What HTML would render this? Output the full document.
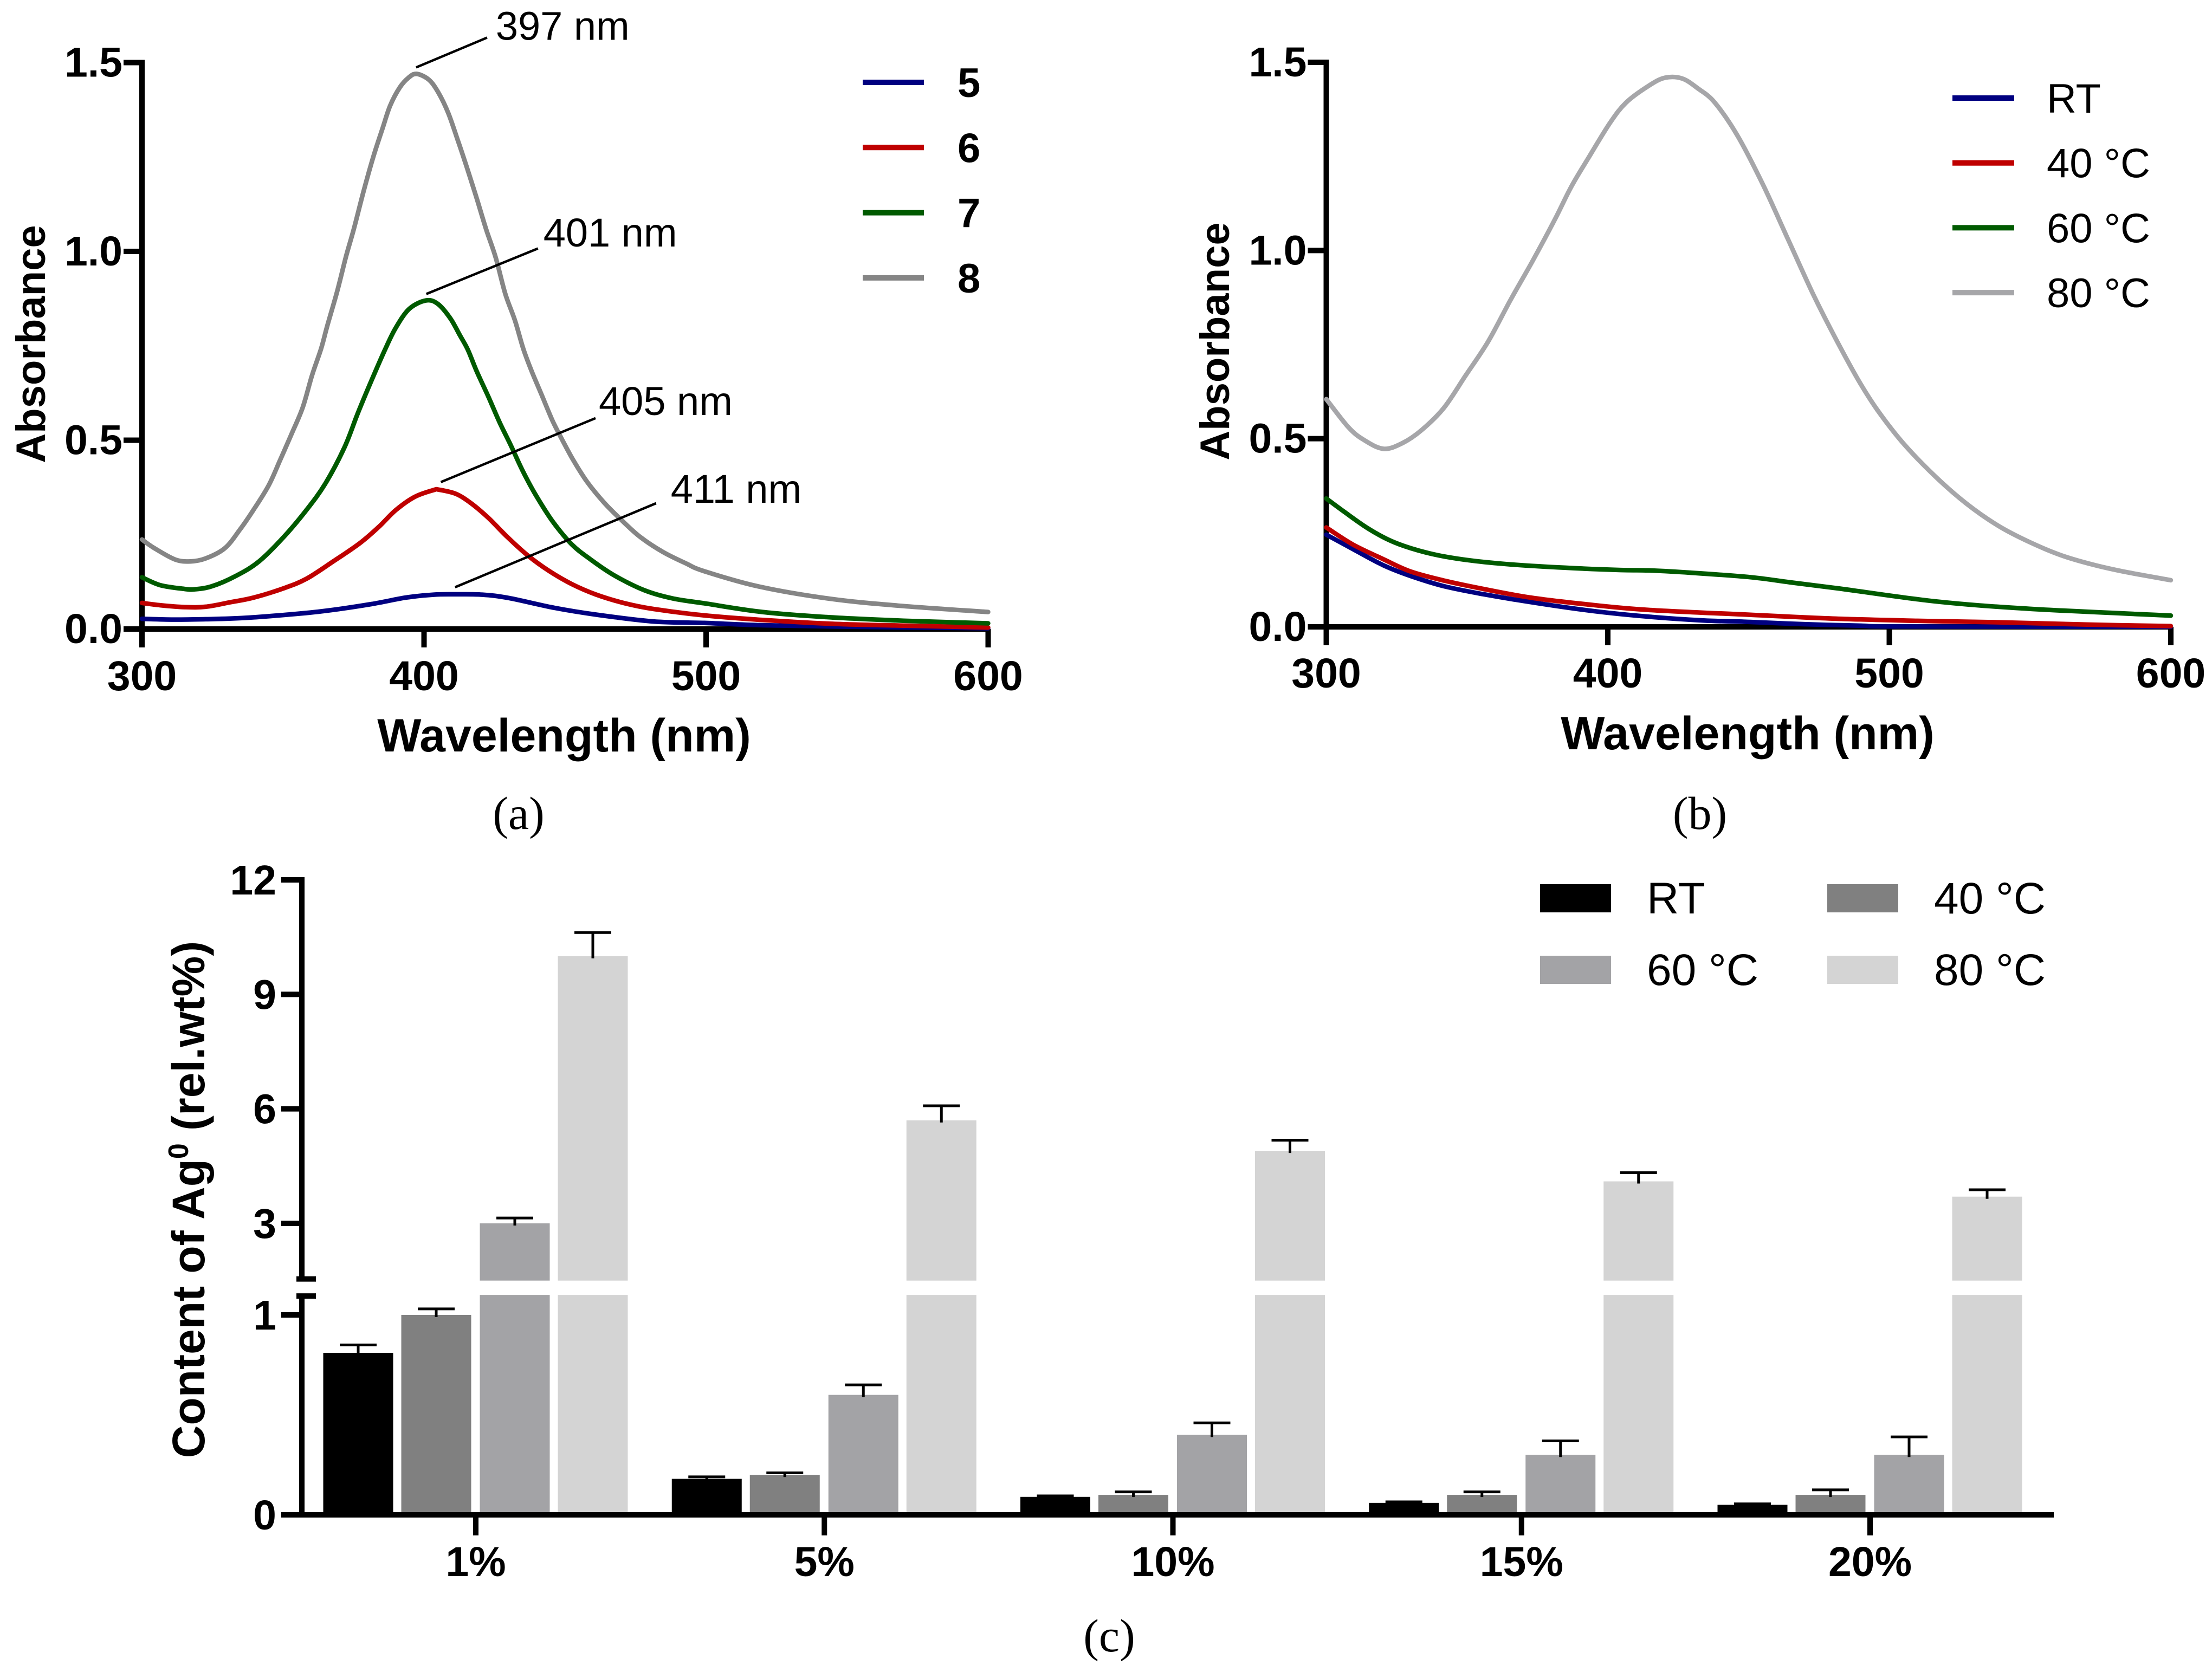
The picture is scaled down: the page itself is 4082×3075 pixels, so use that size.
<!DOCTYPE html>
<html><head><meta charset="utf-8"><title>Absorbance and Ag content charts</title>
<style>html,body{margin:0;padding:0;background:#fff;width:4082px;height:3075px;overflow:hidden}svg{display:block}text{font-family:"Liberation Sans",sans-serif;fill:#000}</style>
</head><body>
<svg id="fig" xmlns="http://www.w3.org/2000/svg" width="4082" height="3075" viewBox="0 0 4082 3075"></svg>
<script>
// Panel (a)
const aXTicks = [300, 400, 500, 600];
const aYTicks = ['0.0', '0.5', '1.0', '1.5'];
const a5W = [300, 311.1, 322.6, 335.4, 351.6, 365, 381.3, 393.4, 403.4, 411.3, 420.7, 430.1, 446.3, 461.1, 481.4, 499.4, 520, 550, 600];
const a5V = [.027, .025, .026, .029, .038, .048, .066, .083, .091, .092, .091, .082, .056, .038, .02, .016, .01, .006, .002];
const a6W = [300, 306.5, 315.2, 322.6, 331.4, 339.5, 350.3, 358.3, 367.8, 377.2, 383.9, 390, 396.7, 403.4, 405.2, 411.3, 416.7, 422.7, 429.5, 436.9, 444.3, 452.4, 461.1, 471.3, 481.4, 499.4, 520, 544, 570, 600];
const a6V = [.069, .063, .058, .059, .071, .083, .108, .133, .179, .227, .27, .315, .35, .368, .369, .358, .333, .295, .244, .194, .154, .119, .091, .068, .053, .036, .024, .014, .009, .004];
const a7W = [300, 306.5, 315.2, 318.6, 324.7, 333.4, 341.5, 350.3, 358.3, 365, 371.8, 376.5, 381.3, 386.3, 390, 394.8, 400.7, 404.9, 409.3, 412.7, 415.5, 418.7, 422.7, 426.8, 430.8, 434.9, 439.6, 445.6, 452.4, 459.1, 467.2, 478, 488.1, 499.4, 520, 544, 570, 600];
const a7V = [.137, .116, .106, .105, .113, .141, .179, .244, .315, .385, .481, .571, .657, .742, .798, .848, .87, .861, .823, .778, .74, .682, .617, .547, .486, .42, .355, .285, .224, .184, .143, .103, .081, .068, .045, .031, .022, .015];
const a8W = [300, 304.4, 311.8, 317.2, 322.6, 329.4, 334.8, 339.5, 344.9, 348.9, 353, 357, 360.3, 363.5, 365.7, 369.2, 372.4, 375.1, 378.6, 382, 385.3, 388, 391.4, 394.5, 397.4, 401.8, 405.2, 408.6, 411.9, 415.3, 418.7, 422, 425.4, 428.8, 432.2, 435.2, 438.2, 441.6, 445.6, 449, 453, 457.8, 463.8, 469.8, 476.6, 484.7, 492.8, 499.4, 519, 544, 568, 600];
const a8V = [.237, .214, .184, .179, .187, .214, .264, .315, .38, .446, .516, .587, .672, .742, .803, .894, .988, 1.059, 1.16, 1.25, 1.326, 1.386, 1.434, 1.46, 1.47, 1.454, 1.419, 1.366, 1.296, 1.22, 1.14, 1.059, .984, .888, .818, .742, .682, .622, .551, .501, .446, .39, .335, .29, .244, .204, .174, .153, .112, .08, .062, .045];
const aPeaks = ['397 nm', '401 nm', '405 nm', '411 nm'];
// Panel (b)
const bRtW = [300, 309.4, 320.2, 330, 341.8, 355.6, 373.2, 394.8, 414.4, 434, 450.6, 470, 490, 505, 600];
const bRtV = [.245, .207, .164, .135, .108, .087, .065, .042, .027, .017, .013, .007, .003, .001, 0];
const b40W = [300, 309.4, 320.2, 330, 341.8, 355.6, 373.2, 394.8, 414.4, 450.6, 480, 510, 540, 570, 600];
const b40V = [.264, .219, .18, .147, .123, .101, .077, .058, .045, .032, .022, .016, .012, .006, .002];
const b60W = [300, 306.5, 314.3, 322.2, 330, 339.8, 351.6, 365.4, 385, 404.6, 414.4, 429.2, 450.6, 465, 482, 516, 549.9, 600];
const b60V = [.341, .305, .264, .231, .209, .19, .176, .166, .157, .151, .15, .144, .132, .118, .102, .068, .048, .03];
const b80W = [300, 307.9, 313.3, 320.3, 327, 333.9, 341.8, 349.6, 357.5, 365.4, 373.2, 381.1, 387, 392.8, 400.7, 406.5, 414.4, 420.3, 426.4, 432.1, 438, 446, 455, 464, 473, 481, 488.9, 495.6, 504.7, 516, 527.3, 538.6, 549.9, 561.1, 572.5, 583.8, 600];
const b80V = [.605, .53, .497, .473, .488, .523, .582, .669, .758, .868, .971, 1.081, 1.169, 1.242, 1.338, 1.393, 1.437, 1.459, 1.457, 1.43, 1.393, 1.306, 1.177, 1.03, .883, .765, .657, .578, .49, .402, .328, .269, .225, .19, .165, .146, .124];
// Panel (c)
const cCategories = ['1%', '5%', '10%', '15%', '20%'];
const cYTicks = [0, 1, 3, 6, 9, 12];
const cRT = [.81, .18, .09, .06, .05];
const cRTErr = [.85, .19, .095, .065, .055];
const c40 = [1.0, .2, .1, .1, .1];
const c40Err = [1.03, .21, .115, .115, .125];
const c60 = [3.0, .6, .4, .3, .3];
const c60Err = [3.14, .65, .46, .37, .39];
const c80 = [10.0, 5.7, 4.9, 4.1, 3.7];
const c80Err = [10.62, 6.08, 5.18, 4.33, 3.88];

const NS = 'http://www.w3.org/2000/svg';
const fig = document.getElementById('fig');
function mk(tag, attrs, parent) {
  const e = document.createElementNS(NS, tag);
  for (const k in attrs) e.setAttribute(k, attrs[k]);
  (parent || fig).appendChild(e);
  return e;
}
function label(s, x, y, size, bold, anchor, name, parent) {
  const el = mk('text', {x: x, y: y, 'font-size': size, 'font-weight': bold ? 'bold' : 'normal', 'text-anchor': anchor || 'start'}, parent);
  el.textContent = s;
  
  
  return el;
}
function line(x1, y1, x2, y2, w, color, name, parent) {
  const el = mk('line', {x1: x1, y1: y1, x2: x2, y2: y2, stroke: color, 'stroke-width': w}, parent);
  
  
  return el;
}
function smooth(pts) {
  let d = 'M' + pts[0][0].toFixed(1) + ' ' + pts[0][1].toFixed(1);
  for (let i = 0; i < pts.length - 1; i++) {
    const p0 = pts[Math.max(0, i - 1)], p1 = pts[i], p2 = pts[i + 1], p3 = pts[Math.min(pts.length - 1, i + 2)];
    const c1x = p1[0] + (p2[0] - p0[0]) / 6, c1y = p1[1] + (p2[1] - p0[1]) / 6;
    const c2x = p2[0] - (p3[0] - p1[0]) / 6, c2y = p2[1] - (p3[1] - p1[1]) / 6;
    d += 'C' + c1x.toFixed(1) + ' ' + c1y.toFixed(1) + ' ' + c2x.toFixed(1) + ' ' + c2y.toFixed(1) + ' ' + p2[0].toFixed(1) + ' ' + p2[1].toFixed(1);
  }
  return d;
}
function spectrum(p, series, pid) {
  const g = mk('g', {});
  
  
  const X = w => p.x0 + (w - 300) * (p.x1 - p.x0) / 300;
  const Y = v => p.y0 + v * (p.y1 - p.y0) / 1.5;
  line(X(300), Y(1.5) - 5, X(300), Y(0) + 5, 10, '#000', 'y-axis-line', g);
  line(X(300), Y(0), X(600), Y(0), 10, '#000', 'x-axis-line', g);
  aXTicks.forEach(t => {
    line(X(t), Y(0), X(t), Y(0) + 34, 10, '#000', 'x-tick-' + t, g);
    label(String(t), X(t), p.xLabelY, 77, true, 'middle', 'x-tick-label-' + t, g);
  });
  aYTicks.forEach(t => {
    line(X(300) - 34, Y(+t), X(300), Y(+t), 10, '#000', 'y-tick-' + t, g);
    label(t, X(300) - 36, Y(+t) + 26, 77, true, 'end', 'y-tick-label-' + t, g);
  });
  series.forEach(s => {
    const c = mk('path', {d: smooth(s.w.map((w, i) => [X(w), Y(s.v[i])])), fill: 'none', stroke: s.color, 'stroke-width': 8.5, 'stroke-linejoin': 'round', 'stroke-linecap': 'round'}, g);
    
    
  });
  label('Wavelength (nm)', p.titleX, p.titleY, 86, true, 'middle', 'x-axis-title', g);
  const yt = label('Absorbance', 0, 0, 76, true, 'middle', 'y-axis-title', g);
  yt.setAttribute('transform', 'translate(' + p.yTitleX + ' ' + p.yTitleC + ') rotate(-90)');
  series.forEach((s, i) => {
    const ly = p.legY + i * p.legStep;
    line(p.legX0, ly, p.legX1, ly, 10, s.color, 'legend-line-' + s.name, g);
    label(s.name, p.legTX, ly + 27, 76, p.legBold, 'start', 'legend-label-' + s.name, g);
  });
  label(p.cap, p.capX, p.capY, 86, false, 'middle', 'caption-' + pid, g).style.fontFamily = '"Liberation Serif",serif';
  return g;
}
const navy = '#000080', red = '#bf0000', green = '#005a00';
const ga = spectrum({x0: 262, x1: 1823.5, y0: 1161, y1: 115.5, xLabelY: 1274, titleX: 1041, titleY: 1387, yTitleX: 83, yTitleC: 635,
  legX0: 1592, legX1: 1705, legY: 152, legStep: 120.3, legTX: 1767, legBold: true, cap: '(a)', capX: 957, capY: 1530},
  [{name: '5', w: a5W, v: a5V, color: navy}, {name: '6', w: a6W, v: a6V, color: red}, {name: '7', w: a7W, v: a7V, color: green}, {name: '8', w: a8W, v: a8V, color: '#858585'}], 'a');
spectrum({x0: 2447.5, x1: 4006, y0: 1157, y1: 115, xLabelY: 1269, titleX: 3225, titleY: 1383, yTitleX: 2268, yTitleC: 630,
  legX0: 3603, legX1: 3717, legY: 181, legStep: 119.7, legTX: 3777, legBold: false, cap: '(b)', capX: 3137, capY: 1530},
  [{name: 'RT', w: bRtW, v: bRtV, color: navy}, {name: '40 °C', w: b40W, v: b40V, color: red}, {name: '60 °C', w: b60W, v: b60V, color: green}, {name: '80 °C', w: b80W, v: b80V, color: '#a6a6a9'}], 'b');

// Peak annotations on panel (a), located from peak wavelength and height
const aPeakW = [397, 401, 405, 411];
const aPeakV = [1.47, .87, .369, .092];
const leaderStartDx = [1, -1, 5, 0];
const leaderStartDy = [-12, -12, -14, -13];
const leaderDx = [132, 205, 290.5, 371];
const leaderDy = [-67, -96, -132, -168];
const peakTextDx = [16, 10, 6, 27];
const peakTextDy = [4, -3.5, -6, -0.7];
const aX = w => 262 + (w - 300) * 1561.5 / 300;
const aY = v => 1161 - v * 1045.5 / 1.5;
aPeaks.forEach((t, i) => {
  const px = aX(aPeakW[i]), py = aY(aPeakV[i]);
  line(px + leaderStartDx[i], py + leaderStartDy[i], px + leaderDx[i], py + leaderDy[i], 4.5, '#000', 'peak-leader-' + aPeakW[i], ga);
  label(t, px + leaderDx[i] + peakTextDx[i], py + leaderDy[i] + peakTextDy[i], 74, false, 'start', 'peak-label-' + aPeakW[i], ga);
});

// Panel (c)
const gc = mk('g', {});


const brkLow = 1.1, brkHigh = 1.5;
const cY = v => v <= brkLow ? 2796 - v * 369 : 2258 - (v - 3) * 70.44;
const cX = i => 878 + i * 643.25;
const barOffsets = [-217, -73, 72, 216];
const barColors = ['#000000', '#808080', '#a3a3a6', '#d4d4d4'];
const barNames = ['rt', '40c', '60c', '80c'];
const barVals = [cRT, c40, c60, c80];
const barErrs = [cRTErr, c40Err, c60Err, c80Err];
const barW = 129;
cCategories.forEach((cat, i) => {
  barVals.forEach((vals, s) => {
    const v = vals[i], e = barErrs[s][i], bx = cX(i) + barOffsets[s] - barW / 2, mid = bx + barW / 2;
    if (v > brkLow) {
      const up = mk('rect', {x: bx, y: cY(v), width: barW, height: cY(brkHigh) - cY(v), fill: barColors[s]}, gc);
      
      
      const lo = mk('rect', {x: bx, y: cY(brkLow), width: barW, height: 2796 - cY(brkLow), fill: barColors[s]}, gc);
      
      
    } else {
      const b = mk('rect', {x: bx, y: cY(v), width: barW, height: 2796 - cY(v), fill: barColors[s]}, gc);
      
      
    }
    line(mid, cY(v) + 4, mid, cY(e), 5, '#000', 'error-stem-' + cat + '-' + barNames[s], gc);
    line(mid - 34, cY(e), mid + 34, cY(e), 5, '#000', 'error-cap-' + cat + '-' + barNames[s], gc);
  });
  line(cX(i), 2796, cX(i), 2834, 10, '#000', 'x-tick-' + cat, gc);
  label(cat, cX(i), 2909, 77, true, 'middle', 'x-tick-label-' + cat, gc);
});
line(557, 1619, 557, cY(brkHigh), 10, '#000', 'y-axis-upper', gc);
line(557, cY(brkLow), 557, 2801, 10, '#000', 'y-axis-lower', gc);
line(547, cY(brkHigh) - 3, 583, cY(brkHigh) - 3, 10, '#000', 'axis-break-upper', gc);
line(547, cY(brkLow) + 2, 583, cY(brkLow) + 2, 10, '#000', 'axis-break-lower', gc);
line(519, 2796, 3790, 2796, 10, '#000', 'x-axis-line', gc);
cYTicks.forEach(t => {
  line(519, cY(t), 557, cY(t), 10, '#000', 'y-tick-' + t, gc);
  label(String(t), 510, cY(t) + 27, 77, true, 'end', 'y-tick-label-' + t, gc);
});
const ct = label('Content of Ag', 0, 0, 84, true, 'middle', 'y-axis-title', gc);
ct.setAttribute('transform', 'translate(377 2214) rotate(-90)');
const sup = mk('tspan', {dy: -30, 'font-size': 52}, ct);
sup.textContent = '0';


const rest = mk('tspan', {dy: 30}, ct);
rest.textContent = ' (rel.wt%)';



const legendNames = ['RT', '40 °C', '60 °C', '80 °C'];
const legendCols = [2842, 3372, 2842, 3372];
const legendRows = [1632, 1632, 1764, 1764];
legendNames.forEach((n, i) => {
  const sw = mk('rect', {x: legendCols[i], y: legendRows[i], width: 131, height: 52, fill: barColors[i]}, gc);
  
  
  label(n, legendCols[i] + 197, legendRows[i] + 54, 82, false, 'start', 'legend-label-' + barNames[i], gc);
});
label('(c)', 2047, 3048, 86, false, 'middle', 'caption-c', gc).style.fontFamily = '"Liberation Serif",serif';
</script>
</body></html>
